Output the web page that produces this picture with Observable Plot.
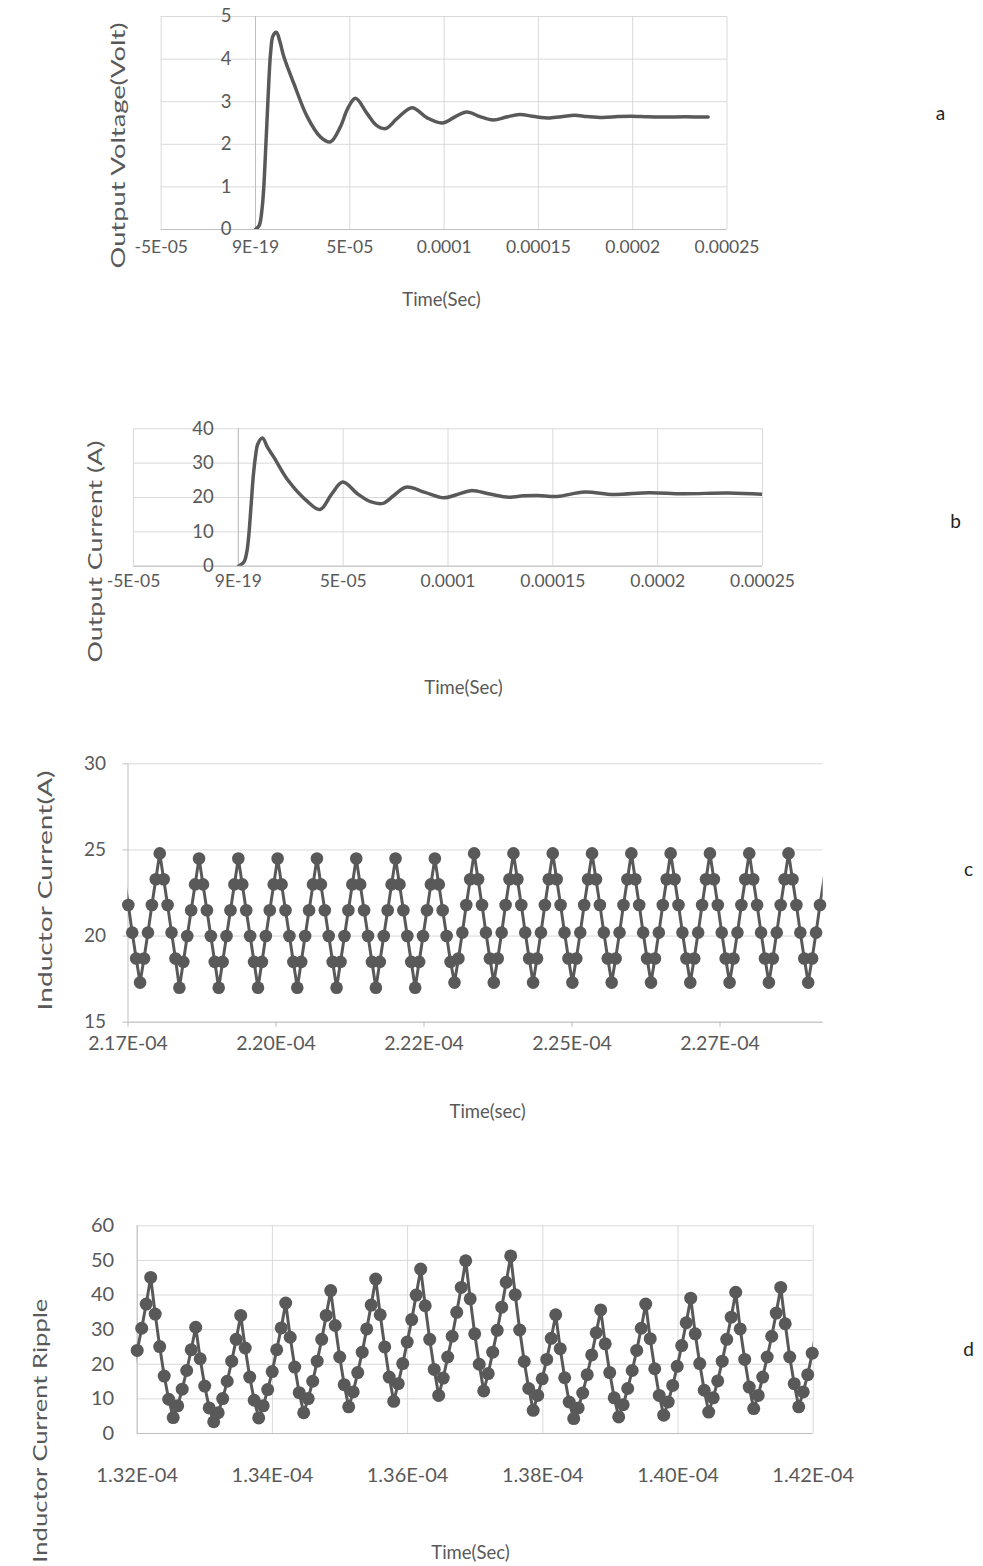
<!DOCTYPE html>
<html><head><meta charset="utf-8">
<script src="https://cdn.jsdelivr.net/npm/d3@7"></script>
<script src="https://cdn.jsdelivr.net/npm/@observablehq/plot@0.6"></script>
<style>
html,body{margin:0;padding:0;background:#fff;}
#root{position:relative;width:983px;height:1566px;overflow:hidden;font-family:Lato,sans-serif;}
.panel{position:absolute;left:0;}
.panel svg{overflow:visible;}
</style></head><body><div id="root"></div>
<script>
// ---------- Panel a: output voltage ----------
const aTime = [0, 2.0e-6, 3.5e-6, 4.4e-6, 5.3e-6, 6.2e-6, 7.1e-6, 8.0e-6, 9.3e-6, 1.11e-5,
  1.3e-5, 1.5e-5, 2.03e-5, 2.74e-5, 3.45e-5, 3.98e-5, 4.5e-5, 4.9e-5, 5.3e-5, 5.92e-5,
  6.4e-5, 6.9e-5, 7.5e-5, 8.3e-5, 9.1e-5, 9.9e-5, 1.06e-4, 1.12e-4, 1.19e-4, 1.26e-4,
  1.33e-4, 1.40e-4, 1.48e-4, 1.56e-4, 1.63e-4, 1.69e-4, 1.76e-4, 1.84e-4, 1.92e-4, 1.99e-4,
  2.08e-4, 2.16e-4, 2.28e-4, 2.40e-4];
const aVolt = [0, 0.1, 0.5, 1.0, 1.8, 2.65, 3.5, 4.14, 4.55, 4.63,
  4.4, 4.06, 3.43, 2.65, 2.17, 2.06, 2.41, 2.85, 3.08, 2.72,
  2.45, 2.37, 2.6, 2.86, 2.62, 2.5, 2.65, 2.76, 2.65, 2.57,
  2.64, 2.7, 2.65, 2.62, 2.65, 2.68, 2.65, 2.63, 2.65, 2.66,
  2.645, 2.64, 2.645, 2.64];
const aXTicks = [-5e-5, 0, 5e-5, 1e-4, 1.5e-4, 2e-4, 2.5e-4];
const aXLabels = ["-5E-05", "9E-19", "5E-05", "0.0001", "0.00015", "0.0002", "0.00025"];
const aYTicks = [0, 1, 2, 3, 4, 5];

// ---------- Panel b: output current ----------
const bTime = [0, 2.65e-6, 4.0e-6, 4.9e-6, 6.0e-6, 7.1e-6, 8.2e-6, 9.3e-6, 1.15e-5, 1.4e-5,
  1.7e-5, 2.37e-5, 3.25e-5, 3.9e-5, 4.45e-5, 4.98e-5, 5.7e-5, 6.3e-5, 6.9e-5, 7.4e-5,
  8.0e-5, 8.9e-5, 9.8e-5, 1.04e-4, 1.11e-4, 1.2e-4, 1.29e-4, 1.36e-4, 1.43e-4, 1.52e-4,
  1.65e-4, 1.79e-4, 1.96e-4, 2.12e-4, 2.34e-4, 2.51e-4];
const bCurr = [0, 1.2, 4.0, 8.4, 17, 26, 32, 35.6, 37.3, 34.5,
  31.7, 25, 19.1, 16.5, 21, 24.5, 21, 18.8, 18.3, 20.5,
  23.0, 21.5, 19.9, 20.8, 22.0, 21.0, 20.1, 20.5, 20.6, 20.3,
  21.6, 20.9, 21.4, 21.1, 21.3, 20.9];
const bXTicks = [-5e-5, 0, 5e-5, 1e-4, 1.5e-4, 2e-4, 2.5e-4];
const bXLabels = ["-5E-05", "9E-19", "5E-05", "0.0001", "0.00015", "0.0002", "0.00025"];
const bYTicks = [0, 10, 20, 30, 40];

// ---------- Panel c: inductor current (sampled) ----------
const cStart = 2.170051e-4 - 6.6385e-8;   // time of first sample
const cStep = 6.6385e-8;                  // sampling step
const cValues = [
  23.3,
  21.8, 20.2, 18.7, 17.3, 18.7, 20.2, 21.8, 23.3, 24.8,
  23.3, 21.8, 20.2, 18.7, 17.0,
  18.5, 20.0, 21.5, 23.0, 24.5, 23.0, 21.5, 20.0, 18.5, 17.0,
  18.5, 20.0, 21.5, 23.0, 24.5, 23.0, 21.5, 20.0, 18.5, 17.0,
  18.5, 20.0, 21.5, 23.0, 24.5, 23.0, 21.5, 20.0, 18.5, 17.0,
  18.5, 20.0, 21.5, 23.0, 24.5, 23.0, 21.5, 20.0, 18.5, 17.0,
  18.5, 20.0, 21.5, 23.0, 24.5, 23.0, 21.5, 20.0, 18.5, 17.0,
  18.5, 20.0, 21.5, 23.0, 24.5, 23.0, 21.5, 20.0, 18.5, 17.0,
  18.5, 20.0, 21.5, 23.0, 24.5, 23.0, 21.5, 20.0, 18.5, 17.3,
  18.7, 20.2, 21.8, 23.3, 24.8, 23.3, 21.8, 20.2, 18.7, 17.3,
  18.7, 20.2, 21.8, 23.3, 24.8, 23.3, 21.8, 20.2, 18.7, 17.3,
  18.7, 20.2, 21.8, 23.3, 24.8, 23.3, 21.8, 20.2, 18.7, 17.3,
  18.7, 20.2, 21.8, 23.3, 24.8, 23.3, 21.8, 20.2, 18.7, 17.3,
  18.7, 20.2, 21.8, 23.3, 24.8, 23.3, 21.8, 20.2, 18.7, 17.3,
  18.7, 20.2, 21.8, 23.3, 24.8, 23.3, 21.8, 20.2, 18.7, 17.3,
  18.7, 20.2, 21.8, 23.3, 24.8, 23.3, 21.8, 20.2, 18.7, 17.3,
  18.7, 20.2, 21.8, 23.3, 24.8, 23.3, 21.8, 20.2, 18.7, 17.3,
  18.7, 20.2, 21.8, 23.3, 24.8, 23.3, 21.8, 20.2, 18.7, 17.3,
  18.7, 20.2, 21.8, 23.3, 24.8
];
const cXDomain = [2.17e-4, 2.287432e-4];
const cXTicks = [2.17e-4, 2.195e-4, 2.22e-4, 2.245e-4, 2.27e-4];
const cXLabels = ["2.17E-04", "2.20E-04", "2.22E-04", "2.25E-04", "2.27E-04"];
const cYTicks = [15, 20, 25, 30];

// ---------- Panel d: inductor current ripple (sampled) ----------
const dStart = 1.32e-4 - 6.657e-8;
const dStep = 6.657e-8;
const dValues = [
  17.5,
  24.0, 30.4, 37.4, 45.1, 34.5, 25.1, 16.6, 9.9, 4.6, 8.0,
  12.8, 18.2, 24.2, 30.7, 21.6, 13.7, 7.4, 3.4, 6.0, 10.1,
  15.1, 20.9, 27.2, 34.1, 24.7, 16.3, 9.6, 4.5, 8.0, 12.7,
  17.9, 24.2, 30.5, 37.7, 27.8, 19.2, 11.8, 6.0, 10.1, 15.1,
  20.9, 27.2, 34.1, 41.3, 31.2, 22.1, 14.1, 7.7, 12.0, 17.6,
  23.5, 30.2, 37.1, 44.6, 34.3, 25.0, 16.3, 9.3, 14.4, 20.2,
  26.4, 32.9, 40.0, 47.5, 36.9, 27.2, 18.5, 11.0, 16.0, 22.1,
  28.1, 35.0, 42.2, 49.9, 38.9, 28.8, 20.0, 12.3, 17.3, 23.5,
  29.8, 36.5, 43.7, 51.3, 40.1, 29.9, 20.8, 13.0, 6.7, 11.0,
  15.8, 21.4, 27.5, 34.3, 24.5, 16.1, 9.1, 4.3, 7.4, 11.7,
  17.0, 22.7, 29.1, 35.7, 25.9, 17.6, 10.3, 4.8, 8.3, 13.0,
  18.2, 24.0, 30.4, 37.4, 27.4, 18.7, 11.0, 5.3, 9.1, 13.9,
  19.4, 25.4, 32.0, 39.1, 28.8, 20.2, 12.5, 6.2, 10.3, 15.2,
  20.9, 27.2, 33.6, 40.8, 30.2, 21.4, 13.4, 7.2, 11.0, 16.3,
  22.1, 28.1, 34.8, 42.2, 31.7, 22.1, 14.4, 7.7, 12.0, 17.0,
  23.2, 30.5
];
const dXDomain = [1.32e-4, 1.42e-4];
const dXTicks = [1.32e-4, 1.34e-4, 1.36e-4, 1.38e-4, 1.40e-4, 1.42e-4];
const dXLabels = ["1.32E-04", "1.34E-04", "1.36E-04", "1.38E-04", "1.40E-04", "1.42E-04"];
const dYTicks = [0, 10, 20, 30, 40, 50, 60];

// ---------- styling ----------
const INK = "#595959", GRID = "#d9d9d9", AXIS = "#bfbfbf";
const FONT = "Lato, sans-serif";
const titleLengths = {
  "Output Voltage(Volt)": 246, "Output Current (A)": 222,
  "Inductor Current(A)": 240, "Inductor Current Ripple": 264
};

const aData = aTime.map((t, i) => ({t, v: aVolt[i]}));
const bData = bTime.map((t, i) => ({t, v: bCurr[i]}));
const cData = cValues.map((v, i) => ({t: cStart + i * cStep, v}));
const dData = dValues.map((v, i) => ({t: dStart + i * dStep, v}));
const inside = (dom) => (d) => d.t >= dom[0] - 1e-12 && d.t <= dom[1] + 1e-12;

const root = document.getElementById("root");
function place(svg, top) {
  const div = document.createElement("div");
  div.className = "panel";
  div.style.top = top + "px";
  div.appendChild(svg);
  root.appendChild(div);
  svg.querySelectorAll("text").forEach(t => {
    const L = titleLengths[t.textContent];
    if (L) { t.setAttribute("textLength", L); t.setAttribute("lengthAdjust", "spacingAndGlyphs"); }
  });
}
const baseStyle = {background: "transparent", color: INK, fontFamily: FONT, fontSize: "16px", overflow: "visible"};

// Panel a
place(Plot.plot({
  width: 983, height: 320,
  marginLeft: 160.7, marginRight: 256.5, marginTop: 16, marginBottom: 91,
  x: {domain: [-5e-5, 2.5e-4], axis: null},
  y: {domain: [0, 5], axis: null},
  style: baseStyle,
  marks: [
    Plot.gridY(aYTicks, {stroke: GRID, strokeOpacity: 1}),
    Plot.gridX(aXTicks, {stroke: GRID, strokeOpacity: 1}),
    Plot.ruleX([0], {stroke: AXIS}),
    Plot.ruleY([0], {stroke: AXIS}),
    Plot.line(aData, {x: "t", y: "v", stroke: INK, strokeWidth: 3.5, curve: "catmull-rom", clip: true}),
    Plot.text(aYTicks, {x: 0, y: d => d, text: d => String(d), textAnchor: "end", dx: -24, fontSize: 18.5, fill: INK}),
    Plot.axisX(aXTicks, {tickSize: 0, tickPadding: 11, fontSize: 17.5, tickFormat: d => aXLabels[aXTicks.indexOf(d)], label: null}),
    Plot.text(["Time(Sec)"], {frameAnchor: "bottom", dx: -2.6, dy: 76, fontSize: 18.5, fill: INK, textAnchor: "middle"}),
    Plot.text(["Output Voltage(Volt)"], {frameAnchor: "left", rotate: -90, dx: -42.7, dy: 22.5, fontSize: 20, fill: INK, textAnchor: "middle"}),
    Plot.text(["a"], {frameAnchor: "top-right", dx: 213.5, dy: 90, fontSize: 19, fill: "#222", textAnchor: "middle"})
  ]
}), 0);

// Panel b
place(Plot.plot({
  width: 983, height: 310,
  marginLeft: 133, marginRight: 221, marginTop: 28.3, marginBottom: 144.3,
  x: {domain: [-5e-5, 2.5e-4], axis: null},
  y: {domain: [0, 40], axis: null},
  style: baseStyle,
  marks: [
    Plot.gridY(bYTicks, {stroke: GRID, strokeOpacity: 1}),
    Plot.gridX(bXTicks, {stroke: GRID, strokeOpacity: 1}),
    Plot.ruleX([0], {stroke: AXIS}),
    Plot.ruleY([0], {stroke: AXIS}),
    Plot.line(bData, {x: "t", y: "v", stroke: INK, strokeWidth: 3.5, curve: "catmull-rom", clip: true}),
    Plot.text(bYTicks, {x: 0, y: d => d, text: d => String(d), textAnchor: "end", dx: -24.5, fontSize: 18.5, fill: INK}),
    Plot.axisX(bXTicks, {tickSize: 0, tickPadding: 8, fontSize: 17.5, tickFormat: d => bXLabels[bXTicks.indexOf(d)], label: null}),
    Plot.text(["Time(Sec)"], {frameAnchor: "bottom", dx: 15.5, dy: 128, fontSize: 18.5, fill: INK, textAnchor: "middle"}),
    Plot.text(["Output Current (A)"], {frameAnchor: "left", rotate: -90, dx: -38, dy: 54, fontSize: 20, fill: INK, textAnchor: "middle"}),
    Plot.text(["b"], {frameAnchor: "top-right", dx: 193, dy: 86, fontSize: 19, fill: "#222", textAnchor: "middle"})
  ]
}), 400);

// Panel c
place(Plot.plot({
  width: 983, height: 400,
  marginLeft: 127.5, marginRight: 160.3, marginTop: 23.3, marginBottom: 118.3,
  x: {domain: cXDomain, axis: null},
  y: {domain: [15, 30], axis: null},
  style: baseStyle,
  marks: [
    Plot.gridY(cYTicks, {stroke: GRID, strokeOpacity: 1}),
    Plot.ruleY([15], {stroke: AXIS}),
    Plot.ruleX([cXDomain[0]], {stroke: AXIS}),
    Plot.axisY(cYTicks, {tickSize: 5, tickPadding: 17, fontSize: 19, stroke: AXIS, label: null}),
    Plot.axisX(cXTicks, {tickSize: 5, tickPadding: 9, fontSize: 19.5, stroke: AXIS, tickFormat: d => cXLabels[cXTicks.indexOf(d)], label: null}),
    Plot.line(cData, {x: "t", y: "v", stroke: INK, strokeWidth: 3, clip: true}),
    Plot.dot(cData.filter(inside(cXDomain)), {x: "t", y: "v", r: 6.3, fill: INK, stroke: "none"}),
    Plot.text(["Time(sec)"], {frameAnchor: "bottom", dx: 12, dy: 96, fontSize: 18.5, fill: INK, textAnchor: "middle"}),
    Plot.text(["Inductor Current(A)"], {frameAnchor: "left", rotate: -90, dx: -82.5, dy: -2.5, fontSize: 20, fill: INK, textAnchor: "middle"}),
    Plot.text(["c"], {frameAnchor: "top-right", dx: 145.3, dy: 98.7, fontSize: 19, fill: "#222", textAnchor: "middle"})
  ]
}), 740);

// Panel d
place(Plot.plot({
  width: 983, height: 366,
  marginLeft: 136.7, marginRight: 170.3, marginTop: 25.3, marginBottom: 133,
  x: {domain: dXDomain, axis: null},
  y: {domain: [0, 60], axis: null},
  style: baseStyle,
  marks: [
    Plot.gridY(dYTicks, {stroke: GRID, strokeOpacity: 1}),
    Plot.gridX(dXTicks, {stroke: GRID, strokeOpacity: 1}),
    Plot.ruleY([0], {stroke: AXIS}),
    Plot.ruleX([dXDomain[0]], {stroke: AXIS}),
    Plot.axisY(dYTicks, {tickSize: 0, tickPadding: 23, fontSize: 20, label: null}),
    Plot.axisX(dXTicks, {tickSize: 0, tickPadding: 34, fontSize: 20, tickFormat: d => dXLabels[dXTicks.indexOf(d)], label: null}),
    Plot.line(dData, {x: "t", y: "v", stroke: INK, strokeWidth: 3, clip: true}),
    Plot.dot(dData.filter(inside(dXDomain)), {x: "t", y: "v", r: 6.5, fill: INK, stroke: "none"}),
    Plot.text(["Time(Sec)"], {frameAnchor: "bottom", dx: -4.7, dy: 125, fontSize: 18.5, fill: INK, textAnchor: "middle"}),
    Plot.text(["Inductor Current Ripple"], {frameAnchor: "left", rotate: -90, dx: -96.7, dy: 101, fontSize: 20, fill: INK, textAnchor: "middle"}),
    Plot.text(["d"], {frameAnchor: "top-right", dx: 155.3, dy: 116.7, fontSize: 19, fill: "#222", textAnchor: "middle"})
  ]
}), 1200);
</script></body></html>
